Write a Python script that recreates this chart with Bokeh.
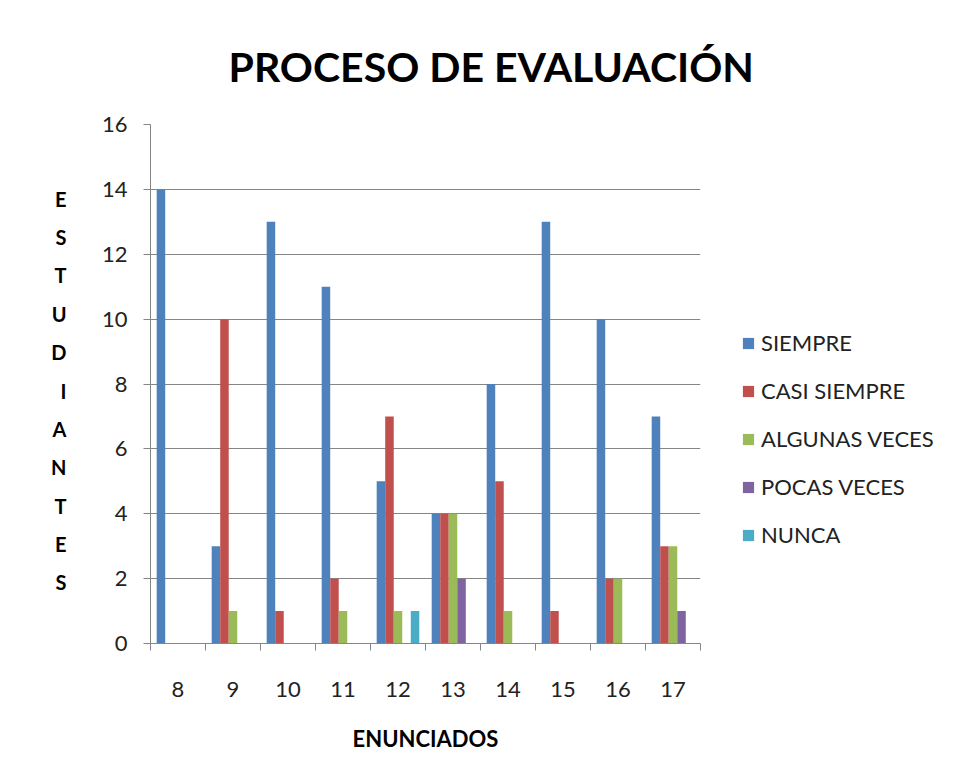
import numpy as np
from bokeh.plotting import figure
from bokeh.models import (Range1d, FixedTicker, Legend, LegendItem, LinearAxis, Title)
from bokeh.embed import file_html
from bokeh.resources import INLINE

categories = ["8", "9", "10", "11", "12", "13", "14", "15", "16", "17"]
series_names = ["SIEMPRE", "CASI SIEMPRE", "ALGUNAS VECES", "POCAS VECES", "NUNCA"]
siempre = [14, 3, 13, 11, 5, 4, 8, 13, 10, 7]
casi_siempre = [0, 10, 1, 2, 7, 4, 5, 1, 2, 3]
algunas_veces = [0, 1, 0, 1, 1, 4, 1, 0, 2, 3]
pocas_veces = [0, 0, 0, 0, 0, 2, 0, 0, 0, 1]
nunca = [0, 0, 0, 0, 1, 0, 0, 0, 0, 0]
y_ticks = [0, 2, 4, 6, 8, 10, 12, 14, 16]
y_title = "ESTUDIANTES"
x_title = "ENUNCIADOS"
chart_title = "PROCESO DE EVALUACIÓN"

series = [siempre, casi_siempre, algunas_veces, pocas_veces, nunca]
colors = ["#4F81BD", "#C0504D", "#9BBB59", "#8064A2", "#4BACC6"]

FONT = "Lato"
GRID = "#868686"

p = figure(width=948, height=772, output_backend="svg", toolbar_location=None,
           x_range=Range1d(0.5, 10.5), y_range=Range1d(0, 16),
           frame_width=550, frame_height=519,
           min_border_left=150, min_border_top=124, min_border_right=248,
           min_border_bottom=129)
p.outline_line_color = None
p.background_fill_color = "white"
p.border_fill_color = "white"

xs = np.arange(1, len(categories) + 1)
bw = 0.155
items = []
for i, (vals, col, name) in enumerate(zip(series, colors, series_names)):
    r = p.vbar(x=xs + (i - 2) * bw, top=vals, width=bw, bottom=0,
               fill_color=col, line_color=None)
    items.append(LegendItem(label=name, renderers=[r]))

# x axis: labels at category centres, tick marks between categories
p.xaxis.ticker = FixedTicker(ticks=list(xs), minor_ticks=list(np.arange(0.5, 11, 1.0)))
p.xaxis.major_label_overrides = {int(x): c for x, c in zip(xs, categories)}
p.xaxis.major_tick_out = 0
p.xaxis.major_tick_in = 0
p.xaxis.minor_tick_out = 7
p.xaxis.minor_tick_in = 0
p.xaxis.minor_tick_line_color = GRID
p.xaxis.axis_line_color = GRID
p.xaxis.major_label_standoff = 31
p.xaxis.major_label_text_font = FONT
p.xaxis.major_label_text_font_size = "22px"
p.xaxis.major_label_text_color = "#222222"
p.xaxis.axis_label = x_title
p.xaxis.axis_label_text_font = FONT
p.xaxis.axis_label_text_font_style = "bold"
p.xaxis.axis_label_text_font_size = "22px"
p.xaxis.axis_label_text_color = "black"
p.xaxis.axis_label_standoff = 25

p.yaxis.ticker = FixedTicker(ticks=y_ticks)
p.yaxis.minor_tick_line_color = None
p.yaxis.major_tick_out = 7
p.yaxis.major_tick_in = 0
p.yaxis.major_tick_line_color = GRID
p.yaxis.axis_line_color = GRID
p.yaxis.major_label_standoff = 16
p.yaxis.major_label_text_font = FONT
p.yaxis.major_label_text_font_size = "22px"
p.yaxis.major_label_text_color = "#222222"

p.xgrid.grid_line_color = None
p.ygrid.ticker = FixedTicker(ticks=y_ticks)
p.ygrid.grid_line_color = GRID
p.ygrid.grid_line_width = 1

# stacked vertical letters of the y title, as a label-only axis
n = len(y_title)
p.extra_y_ranges = {"letters": Range1d(-1.59, 11.93)}
letter_axis = LinearAxis(y_range_name="letters",
                         ticker=FixedTicker(ticks=list(range(n))),
                         major_label_overrides={n - 1 - k: ch for k, ch in enumerate(y_title)},
                         axis_line_color=None, major_tick_line_color=None,
                         minor_tick_line_color=None,
                         major_label_standoff=26,
                         major_label_text_font=FONT,
                         major_label_text_font_style="bold",
                         major_label_text_font_size="20px",
                         major_label_text_color="black")
p.add_layout(letter_axis, "left")

legend = Legend(items=items, location=(41, 95), padding=0, margin=0,
                spacing=21, label_height=22, glyph_height=14, glyph_width=14,
                label_standoff=6, label_text_font=FONT,
                label_text_font_size="22px", label_text_color="#222222",
                border_line_color=None, background_fill_alpha=0)
p.add_layout(legend, "right")

p.add_layout(Title(text=chart_title, align="left", offset=78, standoff=68,
                   text_font=FONT, text_font_style="bold",
                   text_font_size="41px", text_color="black"), "above")

open("out.html", "w").write(file_html(p, INLINE))
